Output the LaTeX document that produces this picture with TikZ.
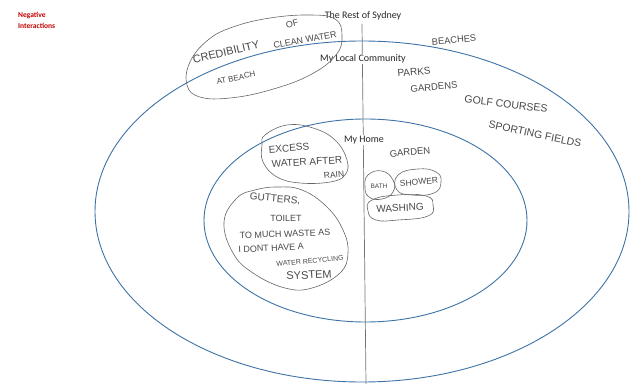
\documentclass[tikz,border=0pt]{standalone}
\usepackage{fontspec}
\setmainfont{Carlito}
\newfontfamily\handfont{Liberation Sans}
\definecolor{ringblue}{HTML}{3E73A6}
\definecolor{negred}{HTML}{C00000}
\begin{document}
\begin{tikzpicture}[x=1pt,y=-1pt,
  ring/.style={draw=ringblue, line width=0.9pt},
  divider/.style={draw=black!55, line width=0.7pt},
  zonelabel/.style={font=\fontsize{10}{12}\selectfont, fill=white, inner sep=1pt, text=black!85},
  hand/.style={font=\handfont\fontsize{#1}{#1}\selectfont, text=black!72, inner sep=0pt},
  blob/.style={draw=black!60, line width=0.6pt}]
\useasboundingbox (0,0) rectangle (634,387);

% title
\node[font=\fontsize{7.5}{11.5}\selectfont\bfseries, text=negred, align=left, anchor=north west, inner sep=0pt] (neg) at (18,12) {Negative\\Interactions};

% rings
\draw[ring] (362,211.5) ellipse [x radius=267, y radius=170.5];
\draw[ring] (365.5,220.5) ellipse [x radius=161.5, y radius=101.5];

% divider
\coordinate (divtop) at (362,24);
\coordinate (divbot) at (366,384);
\draw[divider] (divtop) -- (divbot);

% zone labels
\node[zonelabel] (rest) at (363,16) {The Rest of Sydney};
\node[zonelabel] (local) at (363,59) {My Local Community};
\node[zonelabel] (home) at (364,140) {My Home};

% blobs
\draw[blob] plot[smooth cycle, tension=0.7] coordinates {(233,27) (270,18) (310,15) (335,19) (342,35) (336,55) (310,75) (270,90) (230,98) (200,97) (187,85) (190,62) (208,40)};
\draw[blob] plot[smooth cycle, tension=0.7] coordinates {(265,135) (287,125) (313,128) (335,140) (347,160) (345,175) (330,182) (300,183) (277,177) (263,162) (262,145)};
\draw[blob] plot[smooth cycle, tension=0.7] coordinates {(277,187) (302,190) (327,207) (343,230) (348,253) (340,273) (312,288) (285,288) (253,273) (233,253) (224,222) (237,198) (255,190)};
\draw[blob] plot[smooth cycle, tension=0.8] coordinates {(368,175) (382,171) (393,180) (393,192) (382,199) (369,197) (365,187)};
\draw[blob] plot[smooth cycle, tension=0.8] coordinates {(398,175) (418,169) (436,172) (441,182) (434,193) (412,195) (397,190)};
\draw[blob] plot[smooth cycle, tension=0.8] coordinates {(372,200) (398,195) (426,196) (433,205) (428,216) (398,220) (376,220) (368,211)};

% credibility blob text
\node[hand=11, rotate=13] (cred) at (226,52) {CREDIBILITY};
\node[hand=9, rotate=15] (of) at (292,24) {OF};
\node[hand=9, rotate=10] (clean) at (305,40) {CLEAN WATER};
\node[hand=8, rotate=12] (atbeach) at (236,78) {AT BEACH};

% local community (right)
\node[hand=9.3, rotate=5] (beaches) at (454,40) {BEACHES};
\node[hand=10, rotate=5] (parks) at (414,72) {PARKS};
\node[hand=9.5, rotate=5] (gardens) at (434,87) {GARDENS};
\node[hand=10.5, rotate=-7] (golf) at (506,104) {GOLF COURSES};
\node[hand=10.5, rotate=-12] (sport) at (535,134) {SPORTING FIELDS};

% home (left)
\node[hand=10, rotate=5] (excess) at (289,148) {EXCESS};
\node[hand=10, rotate=3] (waterafter) at (307,162) {WATER AFTER};
\node[hand=8.5, rotate=6] (rain) at (334,175) {RAIN};
\node[hand=10, rotate=-5] (gutters) at (275,199) {GUTTERS,};
\node[hand=9] (toilet) at (286,218) {TOILET};
\node[hand=9, rotate=2] (waste) at (285,234) {TO MUCH WASTE AS};
\node[hand=9, rotate=3] (dont) at (271,248) {I DONT HAVE A};
\node[hand=7, rotate=5] (recycle) at (310,261) {WATER RECYCLING};
\node[hand=11, rotate=3] (system) at (309,275) {SYSTEM};

% home (right)
\node[hand=9.5, rotate=5] (garden) at (410,152) {GARDEN};
\node[hand=6.5] (bath) at (379,186) {BATH};
\node[hand=8.5, rotate=5] (shower) at (419,182) {SHOWER};
\node[hand=10, rotate=3] (washing) at (400,208) {WASHING};
\end{tikzpicture}
\end{document}
